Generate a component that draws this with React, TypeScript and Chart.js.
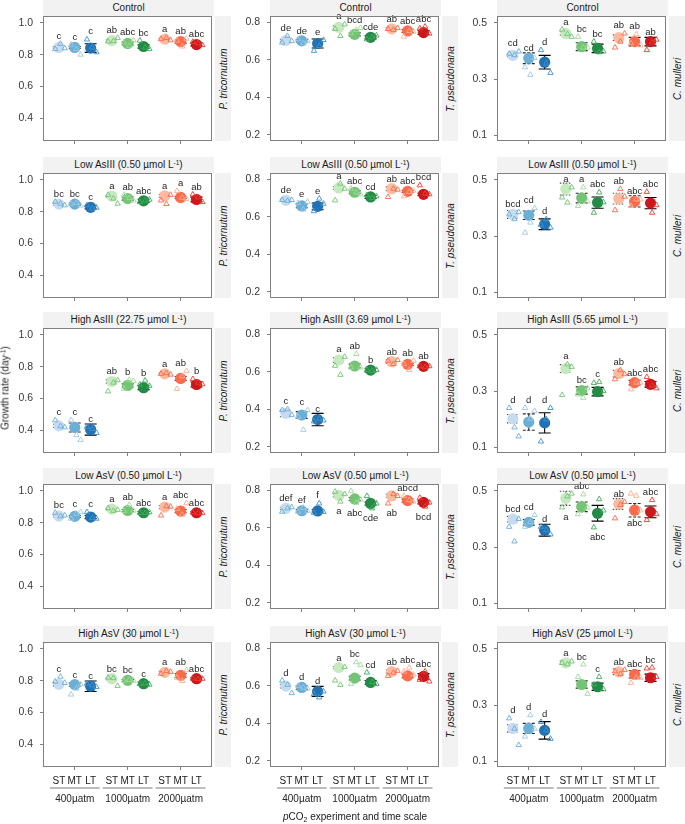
import React, { useEffect, useRef } from "react";
import { Chart, registerables } from "chart.js";
Chart.register(...registerables);

const FONT = "'Liberation Sans', Arial, Helvetica, sans-serif";

// ---------- labels ----------
const timeScales = ["ST", "MT", "LT"];
const co2Levels = ["400µatm", "1000µatm", "2000µatm"];
const species = ["P. tricornutum", "T. pseudonana", "C. mulleri"];
const stripTitles = [
  ["Control", "Control", "Control"],
  ["Low AsIII (0.50 µmol L^-1)", "Low AsIII (0.50 µmol L^-1)", "Low AsIII (0.50 µmol L^-1)"],
  ["High AsIII (22.75 µmol L^-1)", "High AsIII (3.69 µmol L^-1)", "High AsIII (5.65 µmol L^-1)"],
  ["Low AsV (0.50 µmol L^-1)", "Low AsV (0.50 µmol L^-1)", "Low AsV (0.50 µmol L^-1)"],
  ["High AsV (30 µmol L^-1)", "High AsV (30 µmol L^-1)", "High AsV (25 µmol L^-1)"],
];
const yTicksByCol = [
  [0.4, 0.6, 0.8, 1.0],
  [0.2, 0.4, 0.6, 0.8],
  [0.1, 0.3, 0.5],
];
const yRangeByCol = [
  [0.259, 1.042],
  [0.166, 0.834],
  [0.08, 0.524],
];

// ---------- data (order: 400 ST,MT,LT | 1000 ST,MT,LT | 2000 ST,MT,LT) ----------
// P. tricornutum
const ptriControlMean = [0.845, 0.845, 0.841, 0.888, 0.870, 0.851, 0.897, 0.882, 0.863];
const ptriControlErr = [0.005, 0.006, 0.027, 0.005, 0.010, 0.010, 0.005, 0.010, 0.008];
const ptriControlReps = [[0.835, 0.868, 0.840], [0.862, 0.835, 0.800], [0.895, 0.845, 0.815], [0.882, 0.885, 0.905], [0.876, 0.855, 0.890], [0.888, 0.845, 0.835], [0.897, 0.905, 0.890], [0.888, 0.851, 0.900], [0.880, 0.872, 0.860]];
const ptriControlLetters = ["c", "c", "c", "ab", "abc", "bc", "a", "ab", "abc"];

const ptriLowAs3Mean = [0.847, 0.847, 0.827, 0.897, 0.882, 0.868, 0.899, 0.889, 0.876];
const ptriLowAs3Err = [0.006, 0.006, 0.010, 0.006, 0.010, 0.010, 0.008, 0.006, 0.015];
const ptriLowAs3Reps = [[0.862, 0.850, 0.840], [0.850, 0.855, 0.838], [0.840, 0.820, 0.825], [0.905, 0.882, 0.850], [0.905, 0.885, 0.870], [0.860, 0.870, 0.875], [0.870, 0.848, 0.905], [0.930, 0.887, 0.880], [0.907, 0.890, 0.860]];
const ptriLowAs3Letters = ["bc", "bc", "c", "a", "ab", "abc", "a", "a", "ab"];

const ptriHighAs3Mean = [0.429, 0.419, 0.406, 0.707, 0.682, 0.668, 0.755, 0.726, 0.688];
const ptriHighAs3Err = [0.010, 0.028, 0.035, 0.010, 0.010, 0.012, 0.006, 0.012, 0.016];
const ptriHighAs3Reps = [[0.464, 0.427, 0.420], [0.464, 0.371, 0.340], [0.423, 0.410, 0.385], [0.645, 0.700, 0.715], [0.661, 0.717, 0.709], [0.688, 0.713, 0.680], [0.755, 0.760, 0.750], [0.661, 0.740, 0.772], [0.722, 0.700, 0.690]];
const ptriHighAs3Letters = ["c", "c", "c", "ab", "b", "b", "a", "ab", "b"];

const ptriLowAs5Mean = [0.841, 0.839, 0.835, 0.885, 0.876, 0.862, 0.897, 0.872, 0.862];
const ptriLowAs5Err = [0.006, 0.006, 0.010, 0.006, 0.006, 0.008, 0.010, 0.010, 0.008];
const ptriLowAs5Reps = [[0.862, 0.840, 0.845], [0.825, 0.856, 0.866], [0.866, 0.829, 0.825], [0.891, 0.874, 0.880], [0.874, 0.911, 0.875], [0.862, 0.860, 0.865], [0.845, 0.903, 0.900], [0.887, 0.850, 0.922], [0.865, 0.860, 0.860]];
const ptriLowAs5Letters = ["bc", "c", "c", "a", "ab", "abc", "a", "abc", "abc"];

const ptriHighAs5Mean = [0.777, 0.775, 0.765, 0.812, 0.802, 0.781, 0.852, 0.833, 0.812];
const ptriHighAs5Err = [0.010, 0.010, 0.033, 0.006, 0.006, 0.010, 0.006, 0.012, 0.008];
const ptriHighAs5Reps = [[0.794, 0.825, 0.786], [0.713, 0.750, 0.777], [0.781, 0.770, 0.760], [0.819, 0.816, 0.767], [0.800, 0.805, 0.800], [0.780, 0.785, 0.775], [0.843, 0.860, 0.855], [0.819, 0.798, 0.866], [0.814, 0.810, 0.812]];
const ptriHighAs5Letters = ["c", "c", "c", "bc", "bc", "c", "a", "ab", "abc"];

// T. pseudonana
const tpsControlMean = [0.703, 0.701, 0.687, 0.773, 0.736, 0.720, 0.765, 0.754, 0.745];
const tpsControlErr = [0.006, 0.006, 0.024, 0.008, 0.008, 0.008, 0.006, 0.008, 0.010];
const tpsControlReps = [[0.692, 0.727, 0.700], [0.710, 0.688, 0.700], [0.648, 0.674, 0.706], [0.765, 0.727, 0.789], [0.742, 0.760, 0.770], [0.710, 0.720, 0.730], [0.765, 0.760, 0.770], [0.724, 0.754, 0.750], [0.768, 0.777, 0.740]];
const tpsControlLetters = ["de", "de", "e", "a", "bcd", "cde", "ab", "abc", "abc"];

const tpsLowAs3Mean = [0.688, 0.658, 0.656, 0.754, 0.731, 0.706, 0.750, 0.736, 0.720];
const tpsLowAs3Err = [0.005, 0.010, 0.018, 0.008, 0.008, 0.008, 0.010, 0.006, 0.006];
const tpsLowAs3Reps = [[0.690, 0.685, 0.690], [0.674, 0.639, 0.680], [0.630, 0.697, 0.670], [0.688, 0.777, 0.750], [0.750, 0.730, 0.720], [0.715, 0.700, 0.710], [0.706, 0.750, 0.745], [0.710, 0.733, 0.740], [0.768, 0.724, 0.720]];
const tpsLowAs3Letters = ["de", "e", "e", "a", "abc", "cd", "ab", "abc", "bcd"];

const tpsHighAs3Mean = [0.378, 0.369, 0.345, 0.663, 0.631, 0.609, 0.654, 0.640, 0.629];
const tpsHighAs3Err = [0.018, 0.018, 0.033, 0.012, 0.010, 0.010, 0.010, 0.006, 0.006];
const tpsHighAs3Reps = [[0.395, 0.400, 0.370], [0.360, 0.290, 0.395], [0.335, 0.350, 0.340], [0.632, 0.584, 0.680], [0.623, 0.695, 0.623], [0.610, 0.605, 0.610], [0.659, 0.641, 0.663], [0.641, 0.610, 0.659], [0.630, 0.625, 0.630]];
const tpsHighAs3Letters = ["c", "c", "c", "a", "ab", "b", "ab", "ab", "ab"];

const tpsLowAs5Mean = [0.704, 0.691, 0.690, 0.773, 0.754, 0.730, 0.771, 0.745, 0.736];
const tpsLowAs5Err = [0.006, 0.006, 0.006, 0.008, 0.008, 0.008, 0.008, 0.008, 0.008];
const tpsLowAs5Reps = [[0.686, 0.704, 0.710], [0.686, 0.707, 0.690], [0.680, 0.730, 0.685], [0.793, 0.740, 0.780], [0.796, 0.734, 0.750], [0.770, 0.704, 0.730], [0.730, 0.780, 0.770], [0.770, 0.748, 0.740], [0.760, 0.713, 0.735]];
const tpsLowAs5Letters = ["def", "ef", "f", "a", "abc", "cde", "ab", "abcd", "bcd"];
const tpsLowAs5Below = [false, false, false, true, true, true, true, false, true];

const tpsHighAs5Mean = [0.598, 0.591, 0.570, 0.697, 0.641, 0.618, 0.676, 0.653, 0.650];
const tpsHighAs5Err = [0.010, 0.010, 0.027, 0.006, 0.010, 0.010, 0.008, 0.010, 0.015];
const tpsHighAs5Reps = [[0.628, 0.605, 0.561], [0.600, 0.590, 0.585], [0.556, 0.538, 0.570], [0.628, 0.605, 0.700], [0.610, 0.726, 0.710], [0.671, 0.620, 0.610], [0.653, 0.670, 0.680], [0.676, 0.697, 0.660], [0.632, 0.676, 0.623]];
const tpsHighAs5Letters = ["d", "d", "d", "a", "bc", "cd", "ab", "abc", "abc"];

// C. mulleri
const cmuControlMean = [0.384, 0.374, 0.360, 0.462, 0.415, 0.409, 0.447, 0.433, 0.433];
const cmuControlErr = [0.005, 0.019, 0.024, 0.006, 0.014, 0.015, 0.010, 0.015, 0.015];
const cmuControlReps = [[0.390, 0.385, 0.398], [0.342, 0.315, 0.375], [0.403, 0.355, 0.322], [0.476, 0.460, 0.450], [0.450, 0.412, 0.412], [0.433, 0.395, 0.398], [0.412, 0.433, 0.462], [0.427, 0.459, 0.420], [0.403, 0.430, 0.440]];
const cmuControlLetters = ["cd", "cd", "d", "a", "bc", "bc", "ab", "ab", "ab"];

const cmuLowAs3Mean = [0.377, 0.374, 0.342, 0.467, 0.435, 0.419, 0.433, 0.423, 0.417];
const cmuLowAs3Err = [0.014, 0.015, 0.019, 0.021, 0.017, 0.020, 0.019, 0.020, 0.020];
const cmuLowAs3Reps = [[0.377, 0.360, 0.385], [0.312, 0.348, 0.399], [0.340, 0.360, 0.330], [0.437, 0.419, 0.473], [0.407, 0.473, 0.423], [0.383, 0.455, 0.420], [0.392, 0.467, 0.440], [0.407, 0.430, 0.430], [0.457, 0.383, 0.410]];
const cmuLowAs3Letters = ["bcd", "cd", "d", "a", "a", "abc", "ab", "abc", "abc"];

const cmuHighAs3Mean = [0.202, 0.190, 0.187, 0.380, 0.302, 0.298, 0.362, 0.330, 0.324];
const cmuHighAs3Err = [0.015, 0.029, 0.036, 0.014, 0.013, 0.015, 0.012, 0.008, 0.010];
const cmuHighAs3Reps = [[0.240, 0.171, 0.139], [0.240, 0.202, 0.229], [0.121, 0.200, 0.240], [0.286, 0.395, 0.386], [0.288, 0.276, 0.310], [0.329, 0.332, 0.300], [0.342, 0.374, 0.360], [0.306, 0.330, 0.330], [0.350, 0.320, 0.310]];
const cmuHighAs3Letters = ["d", "d", "d", "a", "bc", "c", "ab", "abc", "abc"];

const cmuLowAs5Mean = [0.399, 0.388, 0.360, 0.473, 0.443, 0.420, 0.453, 0.431, 0.425];
const cmuLowAs5Err = [0.010, 0.010, 0.021, 0.025, 0.017, 0.028, 0.019, 0.024, 0.021];
const cmuLowAs5Reps = [[0.372, 0.320, 0.400], [0.372, 0.388, 0.414], [0.372, 0.360, 0.345], [0.441, 0.480, 0.490], [0.417, 0.487, 0.440], [0.370, 0.470, 0.430], [0.402, 0.450, 0.460], [0.490, 0.482, 0.430], [0.396, 0.467, 0.417]];
const cmuLowAs5Letters = ["bcd", "cd", "d", "a", "abc", "abc", "ab", "abc", "abc"];
const cmuLowAs5Below = [false, false, false, true, false, true, false, true, false];

const cmuHighAs5Mean = [0.217, 0.217, 0.210, 0.450, 0.373, 0.365, 0.418, 0.409, 0.397];
const cmuHighAs5Err = [0.013, 0.018, 0.031, 0.006, 0.013, 0.013, 0.010, 0.013, 0.013];
const cmuHighAs5Reps = [[0.253, 0.216, 0.158], [0.188, 0.264, 0.216], [0.240, 0.210, 0.180], [0.450, 0.445, 0.455], [0.400, 0.444, 0.340], [0.373, 0.400, 0.356], [0.420, 0.410, 0.425], [0.379, 0.397, 0.397], [0.430, 0.433, 0.400]];
const cmuHighAs5Letters = ["d", "d", "d", "a", "bc", "c", "ab", "abc", "bc"];

type PanelData = { mean: number[]; err: number[]; reps: number[][]; letters: string[]; below?: boolean[] };

const panels: PanelData[][] = [
  [
    { mean: ptriControlMean, err: ptriControlErr, reps: ptriControlReps, letters: ptriControlLetters },
    { mean: tpsControlMean, err: tpsControlErr, reps: tpsControlReps, letters: tpsControlLetters },
    { mean: cmuControlMean, err: cmuControlErr, reps: cmuControlReps, letters: cmuControlLetters },
  ],
  [
    { mean: ptriLowAs3Mean, err: ptriLowAs3Err, reps: ptriLowAs3Reps, letters: ptriLowAs3Letters },
    { mean: tpsLowAs3Mean, err: tpsLowAs3Err, reps: tpsLowAs3Reps, letters: tpsLowAs3Letters },
    { mean: cmuLowAs3Mean, err: cmuLowAs3Err, reps: cmuLowAs3Reps, letters: cmuLowAs3Letters },
  ],
  [
    { mean: ptriHighAs3Mean, err: ptriHighAs3Err, reps: ptriHighAs3Reps, letters: ptriHighAs3Letters },
    { mean: tpsHighAs3Mean, err: tpsHighAs3Err, reps: tpsHighAs3Reps, letters: tpsHighAs3Letters },
    { mean: cmuHighAs3Mean, err: cmuHighAs3Err, reps: cmuHighAs3Reps, letters: cmuHighAs3Letters },
  ],
  [
    { mean: ptriLowAs5Mean, err: ptriLowAs5Err, reps: ptriLowAs5Reps, letters: ptriLowAs5Letters },
    { mean: tpsLowAs5Mean, err: tpsLowAs5Err, reps: tpsLowAs5Reps, letters: tpsLowAs5Letters, below: tpsLowAs5Below },
    { mean: cmuLowAs5Mean, err: cmuLowAs5Err, reps: cmuLowAs5Reps, letters: cmuLowAs5Letters, below: cmuLowAs5Below },
  ],
  [
    { mean: ptriHighAs5Mean, err: ptriHighAs5Err, reps: ptriHighAs5Reps, letters: ptriHighAs5Letters },
    { mean: tpsHighAs5Mean, err: tpsHighAs5Err, reps: tpsHighAs5Reps, letters: tpsHighAs5Letters },
    { mean: cmuHighAs5Mean, err: cmuHighAs5Err, reps: cmuHighAs5Reps, letters: cmuHighAs5Letters },
  ],
];

// ---------- styling ----------
const pointColors = [
  ["#c6dbef", "#6baed6", "#2171b5"],
  ["#c7e9c0", "#74c476", "#238b45"],
  ["#fcbba1", "#fb6a4a", "#cb181d"],
];
const triColors = [
  ["#6baed6", "#9ecae1", "#4292c6"],
  ["#74c476", "#a1d99b", "#41ab5d"],
  ["#fb6a4a", "#fcae91", "#ef3b2c"],
];
const timeOffset = [-0.3, 0, 0.3];
const jitter = [-0.07, 0.03, 0.11];

const BOX_W = 171;
const BOX_H = 125;
const AXIS_W = 43;
const PAD_TOP = 14;
const colLeft = [43, 270, 497];
const rowBoxTop = [16, 173, 328, 484, 642];

function Title({ text }: { text: string }) {
  const parts = text.split("^-1");
  return (
    <span>
      {parts[0]}
      {parts.length > 1 && (
        <>
          <span style={{ fontSize: "0.65em", position: "relative", top: "-0.5em" }}>-1</span>
          {parts[1]}
        </>
      )}
    </span>
  );
}

function Panel({ row, col, d }: { row: number; col: number; d: PanelData }) {
  const ref = useRef<HTMLCanvasElement>(null);
  const bottomRow = row === 4;
  const padBottom = bottomRow ? 58 : 12;
  const W = AXIS_W + BOX_W + 4;
  const H = PAD_TOP + BOX_H + 3 + padBottom;

  useEffect(() => {
    const meanPts: { x: number; y: number }[] = [];
    const meanCols: string[] = [];
    const triPts: { x: number; y: number }[] = [];
    const triCols: string[] = [];
    d.mean.forEach((m, i) => {
      const g = Math.floor(i / 3);
      const t = i % 3;
      const x = g + 1 + timeOffset[t];
      meanPts.push({ x, y: m });
      meanCols.push(pointColors[g][t]);
      d.reps[i].forEach((r, k) => {
        triPts.push({ x: x + jitter[k], y: r });
        triCols.push(triColors[g][t]);
      });
    });
    const [ymin, ymax] = yRangeByCol[col];
    const yt = yTicksByCol[col];

    const deco = {
      id: "deco",
      beforeDatasetsDraw(chart: any) {
        const ctx = chart.ctx;
        const xs = chart.scales.x;
        const ys = chart.scales.y;
        d.mean.forEach((m, i) => {
          const g = Math.floor(i / 3);
          const t = i % 3;
          const px = xs.getPixelForValue(g + 1 + timeOffset[t]);
          const top = ys.getPixelForValue(m + d.err[i]);
          const bot = ys.getPixelForValue(m - d.err[i]);
          ctx.save();
          ctx.strokeStyle = t === 0 ? "rgba(0,0,0,0.7)" : t === 1 ? "rgba(0,0,0,0.85)" : "#000";
          ctx.lineWidth = 1.1;
          ctx.setLineDash(t === 0 ? [1.5, 1.5] : t === 1 ? [3, 1.5] : []);
          ctx.beginPath();
          ctx.moveTo(px, top);
          ctx.lineTo(px, bot);
          ctx.moveTo(px - 6, top);
          ctx.lineTo(px + 6, top);
          ctx.moveTo(px - 6, bot);
          ctx.lineTo(px + 6, bot);
          ctx.stroke();
          ctx.restore();
        });
      },
      afterDatasetsDraw(chart: any) {
        const ctx = chart.ctx;
        const xs = chart.scales.x;
        const ys = chart.scales.y;
        ctx.save();
        ctx.font = `9.5px ${FONT}`;
        ctx.fillStyle = "#262626";
        ctx.textAlign = "center";
        d.mean.forEach((m, i) => {
          const g = Math.floor(i / 3);
          const t = i % 3;
          const px = xs.getPixelForValue(g + 1 + timeOffset[t]);
          const below = d.below ? d.below[i] : false;
          if (below) {
            const yb = Math.max(
              ys.getPixelForValue(m - d.err[i]),
              ys.getPixelForValue(Math.min(...d.reps[i])) + 3.5,
              ys.getPixelForValue(m) + 5.5
            );
            ctx.textBaseline = "top";
            ctx.fillText(d.letters[i], px, yb + 2);
          } else {
            const ytop = Math.min(
              ys.getPixelForValue(m + d.err[i]),
              ys.getPixelForValue(Math.max(...d.reps[i])) - 3.5,
              ys.getPixelForValue(m) - 5.5
            );
            ctx.textBaseline = "alphabetic";
            ctx.fillText(d.letters[i], px, ytop - 1.5);
          }
        });
        ctx.restore();
      },
      afterDraw(chart: any) {
        const ctx = chart.ctx;
        const a = chart.chartArea;
        const xs = chart.scales.x;
        ctx.save();
        ctx.strokeStyle = "#808080";
        ctx.lineWidth = 1;
        ctx.strokeRect(Math.round(a.left) + 0.5, Math.round(a.top) + 0.5, Math.round(a.right - a.left) - 1, Math.round(a.bottom - a.top) - 1);
        if (bottomRow) {
          const yb = a.bottom;
          for (let g = 0; g < 3; g++) {
            ctx.font = `10px ${FONT}`;
            ctx.fillStyle = "#1a1a1a";
            ctx.textAlign = "center";
            ctx.textBaseline = "middle";
            for (let t = 0; t < 3; t++) {
              ctx.fillText(timeScales[t], xs.getPixelForValue(g + 1 + timeOffset[t]), yb + 14);
            }
            ctx.strokeStyle = "#bdbdbd";
            ctx.lineWidth = 2;
            ctx.beginPath();
            ctx.moveTo(xs.getPixelForValue(g + 1 + timeOffset[0]) - 9, yb + 21);
            ctx.lineTo(xs.getPixelForValue(g + 1 + timeOffset[2]) + 9, yb + 21);
            ctx.stroke();
            ctx.font = `10px ${FONT}`;
            ctx.fillStyle = "#262626";
            ctx.fillText(co2Levels[g], xs.getPixelForValue(g + 1), yb + 32);
          }
        }
        ctx.restore();
      },
    };

    const chart = new Chart(ref.current as HTMLCanvasElement, {
      type: "scatter",
      data: {
        datasets: [
          {
            data: triPts,
            pointStyle: "triangle",
            pointRadius: 3.1,
            pointBorderWidth: 0.9,
            pointBorderColor: triCols,
            pointBackgroundColor: "rgba(0,0,0,0)",
          } as any,
          {
            data: meanPts,
            pointStyle: "circle",
            pointRadius: 5.6,
            pointBorderWidth: 0,
            pointBackgroundColor: meanCols,
            pointBorderColor: meanCols,
          } as any,
        ],
      },
      options: {
        animation: false,
        responsive: false,
        devicePixelRatio: 1,
        events: [],
        layout: { padding: { top: PAD_TOP, left: 0, right: 4, bottom: padBottom } },
        plugins: { legend: { display: false }, tooltip: { enabled: false }, title: { display: false } },
        scales: {
          x: {
            type: "linear",
            min: 0.4,
            max: 3.6,
            afterBuildTicks: (s: any) => {
              s.ticks = [1, 2, 3].map((v) => ({ value: v }));
            },
            afterFit: (s: any) => {
              s.height = 3;
            },
            ticks: { display: false },
            grid: { drawOnChartArea: false, drawTicks: true, tickLength: 3, color: "#7f7f7f" },
            border: { display: false },
          },
          y: {
            type: "linear",
            min: ymin,
            max: ymax,
            afterBuildTicks: (s: any) => {
              s.ticks = yt.map((v) => ({ value: v }));
            },
            afterFit: (s: any) => {
              s.width = AXIS_W;
            },
            ticks: {
              callback: (v: any) => Number(v).toFixed(1),
              font: { size: 10.5, family: FONT },
              color: "#3a3a3a",
              padding: 7,
            },
            grid: { drawOnChartArea: false, drawTicks: true, tickLength: 3, color: "#7f7f7f" },
            border: { display: false },
          },
        },
      } as any,
      plugins: [deco],
    });
    return () => chart.destroy();
  }, []);

  return (
    <canvas
      ref={ref}
      width={W}
      height={H}
      style={{
        position: "absolute",
        left: colLeft[col] - AXIS_W,
        top: rowBoxTop[row] - PAD_TOP,
        width: W,
        height: H,
      }}
    />
  );
}

export default function App() {
  const strips: React.ReactNode[] = [];
  for (let r = 0; r < 5; r++) {
    for (let c = 0; c < 3; c++) {
      strips.push(
        <div
          key={`t${r}${c}`}
          style={{
            position: "absolute",
            left: colLeft[c],
            top: rowBoxTop[r] - 16,
            width: BOX_W,
            height: 16,
            background: "#f2f2f2",
            fontSize: 10,
            lineHeight: "16px",
            textAlign: "center",
            color: "#1a1a1a",
            whiteSpace: "nowrap",
          }}
        >
          <Title text={stripTitles[r][c]} />
        </div>
      );
      strips.push(
        <div
          key={`s${r}${c}`}
          style={{
            position: "absolute",
            left: colLeft[c] + BOX_W + 1,
            top: rowBoxTop[r],
            width: 16,
            height: BOX_H,
            background: "#f2f2f2",
          }}
        >
          <div
            style={{
              position: "absolute",
              left: 8,
              top: BOX_H / 2,
              transform: "translate(-50%, -50%) rotate(-90deg)",
              whiteSpace: "nowrap",
              fontSize: 10,
              fontStyle: "italic",
              color: "#1a1a1a",
            }}
          >
            {species[c]}
          </div>
        </div>
      );
    }
  }
  const charts: React.ReactNode[] = [];
  for (let r = 0; r < 5; r++) {
    for (let c = 0; c < 3; c++) {
      charts.push(<Panel key={`p${r}${c}`} row={r} col={c} d={panels[r][c]} />);
    }
  }
  return (
    <div
      style={{
        position: "absolute",
        left: 0,
        top: 0,
        width: 685,
        height: 824,
        background: "#fff",
        fontFamily: FONT,
        overflow: "hidden",
      }}
    >
      {strips}
      {charts}
      <div
        style={{
          position: "absolute",
          left: 5,
          top: 388,
          transform: "translate(-50%, -50%) rotate(-90deg)",
          whiteSpace: "nowrap",
          fontSize: 10,
          color: "#1a1a1a",
        }}
      >
        Growth rate (day<span style={{ fontSize: "0.65em", position: "relative", top: "-0.5em" }}>-1</span>)
      </div>
      <div
        style={{
          position: "absolute",
          left: 205,
          top: 811,
          width: 300,
          textAlign: "center",
          fontSize: 10,
          color: "#1a1a1a",
          whiteSpace: "nowrap",
        }}
      >
        <i>p</i>CO<span style={{ fontSize: "0.7em", position: "relative", top: "0.35em" }}>2</span> experiment and time scale
      </div>
    </div>
  );
}
